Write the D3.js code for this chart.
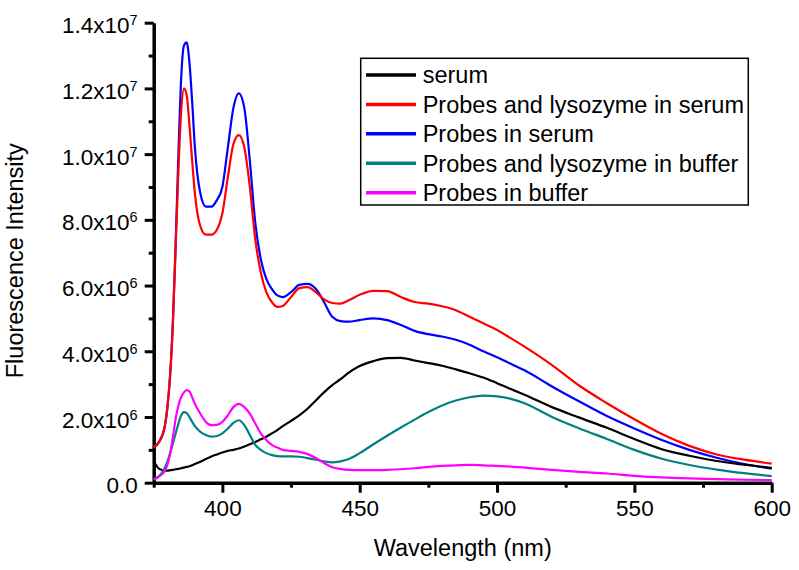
<!DOCTYPE html>
<html>
<head>
<meta charset="utf-8">
<script src="https://cdn.jsdelivr.net/npm/d3@7"></script>
<style>
  body { margin: 0; background: #fff; }
  svg { font-family: Arial, "Liberation Sans", sans-serif; }
</style>
</head>
<body>
<svg id="chart" width="799" height="570"></svg>
<script>
// wavelength grid (nm)
const wavelength = [375, 377, 379, 380, 381, 382, 383, 384, 385, 386, 387, 388, 389, 390, 392, 394, 396, 398, 400, 402,
  404, 406, 408, 410, 412, 414, 416, 418, 420, 422, 425, 428, 431, 434, 437, 440, 443, 446, 450, 455,
  460, 465, 470, 475, 480, 485, 490, 495, 500, 505, 510, 520, 530, 540, 550, 560, 570, 580, 590, 600]

// intensities in units of 1e6
const serum = [0.66, 0.42, 0.37, 0.37, 0.38, 0.39, 0.41, 0.42, 0.44, 0.46, 0.48, 0.50, 0.53, 0.57, 0.64, 0.72, 0.80, 0.86, 0.92, 0.97,
  1.00, 1.04, 1.10, 1.17, 1.24, 1.32, 1.40, 1.50, 1.60, 1.72, 1.88, 2.05, 2.25, 2.50, 2.75, 2.97, 3.15, 3.35, 3.55, 3.70,
  3.79, 3.80, 3.72, 3.64, 3.56, 3.45, 3.33, 3.20, 3.03, 2.85, 2.68, 2.30, 1.98, 1.67, 1.33, 1.02, 0.82, 0.66, 0.55, 0.45]
const lysoSerum = [1.08, 1.25, 1.70, 2.30, 3.30, 4.90, 7.20, 9.50, 11.3, 12.0, 11.8, 10.9, 9.80, 8.80, 7.80, 7.55, 7.55, 7.70, 8.20, 9.30,
  10.3, 10.58, 10.2, 9.00, 7.40, 6.40, 5.80, 5.50, 5.35, 5.38, 5.65, 5.92, 5.95, 5.80, 5.58, 5.47, 5.45, 5.55, 5.72, 5.84,
  5.83, 5.65, 5.50, 5.45, 5.37, 5.25, 5.05, 4.85, 4.65, 4.40, 4.14, 3.58, 2.95, 2.42, 1.93, 1.48, 1.12, 0.86, 0.70, 0.58]
const probesSerum = [1.08, 1.25, 1.70, 2.30, 3.30, 4.90, 7.30, 10.0, 12.3, 13.3, 13.4, 12.8, 11.6, 10.2, 8.80, 8.40, 8.40, 8.60, 9.00, 10.2,
  11.4, 11.85, 11.4, 9.80, 7.90, 6.80, 6.20, 5.90, 5.70, 5.65, 5.80, 6.02, 6.05, 5.90, 5.50, 5.05, 4.92, 4.90, 4.95, 5.00,
  4.95, 4.80, 4.62, 4.52, 4.45, 4.35, 4.20, 4.00, 3.82, 3.62, 3.42, 2.93, 2.47, 2.03, 1.65, 1.30, 1.00, 0.76, 0.57, 0.43]
const lysoBuffer = [0.10, 0.20, 0.45, 0.65, 0.90, 1.20, 1.50, 1.80, 2.05, 2.15, 2.12, 2.00, 1.85, 1.72, 1.55, 1.45, 1.40, 1.42, 1.50, 1.65,
  1.82, 1.90, 1.75, 1.45, 1.15, 1.00, 0.90, 0.84, 0.81, 0.80, 0.80, 0.79, 0.75, 0.70, 0.65, 0.62, 0.65, 0.72, 0.90, 1.17,
  1.43, 1.68, 1.92, 2.15, 2.35, 2.50, 2.60, 2.65, 2.63, 2.55, 2.42, 2.00, 1.65, 1.33, 1.00, 0.73, 0.54, 0.40, 0.29, 0.20]
const probesBuffer = [0.10, 0.20, 0.35, 0.55, 0.90, 1.40, 1.95, 2.35, 2.60, 2.75, 2.82, 2.78, 2.60, 2.40, 2.10, 1.85, 1.75, 1.76, 1.85, 2.05,
  2.30, 2.40, 2.30, 2.10, 1.80, 1.50, 1.30, 1.15, 1.07, 1.00, 0.97, 0.94, 0.87, 0.75, 0.60, 0.47, 0.42, 0.39, 0.38, 0.38,
  0.39, 0.41, 0.44, 0.48, 0.51, 0.53, 0.54, 0.53, 0.51, 0.49, 0.46, 0.39, 0.33, 0.28, 0.21, 0.16, 0.13, 0.11, 0.09, 0.08]

const seriesNames = ['serum', 'Probes and lysozyme in serum', 'Probes in serum', 'Probes and lysozyme in buffer', 'Probes in buffer']
const seriesValues = [serum, lysoSerum, probesSerum, lysoBuffer, probesBuffer]
const seriesColors = ['#000000', '#ff0000', '#0000ff', '#008080', '#ff00ff']
// draw order: blue under red near the peaks, as in the original
const drawOrder = [2, 1, 0, 3, 4]

const xMajor = [400, 450, 500, 550, 600]
const xMinor = [375, 425, 475, 525, 575]
const yMajor = [0, 2e6, 4e6, 6e6, 8e6, 1e7, 1.2e7, 1.4e7]
const yMinor = [1e6, 3e6, 5e6, 7e6, 9e6, 1.1e7, 1.3e7]

const svg = d3.select('#chart')

const x = d3.scaleLinear().domain([375, 600]).range([153.7, 771.7])
const y = d3.scaleLinear().domain([0, 1.4e7]).range([482.7, 22.7])

// minor ticks
svg.append('g')
  .attr('transform', `translate(0,${y(0)})`)
  .call(d3.axisBottom(x).tickValues(xMinor).tickSize(5).tickFormat(''))
  .call(g => g.select('.domain').remove())
  .call(g => g.selectAll('line').attr('stroke-width', 3))
svg.append('g')
  .attr('transform', `translate(${x(375)},0)`)
  .call(d3.axisLeft(y).tickValues(yMinor).tickSize(5).tickFormat(''))
  .call(g => g.select('.domain').remove())
  .call(g => g.selectAll('line').attr('stroke-width', 3))

// x axis
svg.append('g')
  .attr('transform', `translate(0,${y(0)})`)
  .call(d3.axisBottom(x).tickValues(xMajor).tickSize(10).tickPadding(7).tickSizeOuter(0))
  .call(g => g.select('.domain').attr('stroke-width', 3.5))
  .call(g => g.selectAll('line').attr('stroke-width', 3))
  .call(g => g.selectAll('text').attr('font-size', 22.5).attr('font-family', 'Arial, Liberation Sans').attr('fill', '#000'))

// y axis with x10^n labels
const fmtY = v => {
  if (v === 0) return { m: '0.0', e: null }
  const e = Math.floor(Math.log10(v))
  return { m: (v / Math.pow(10, e)).toFixed(1) + 'x10', e: String(e) }
}
svg.append('g')
  .attr('transform', `translate(${x(375)},0)`)
  .call(d3.axisLeft(y).tickValues(yMajor).tickSize(9).tickPadding(7).tickSizeOuter(0))
  .call(g => g.select('.domain').attr('stroke-width', 3.5))
  .call(g => g.selectAll('line').attr('stroke-width', 3))
  .call(g => g.selectAll('text')
    .attr('font-size', 22.5)
    .attr('font-family', 'Arial, Liberation Sans')
    .attr('fill', '#000')
    .attr('dy', '0.45em')
    .each(function (d) {
      const f = fmtY(d)
      const t = d3.select(this).text(f.m)
      if (f.e) {
        t.append('tspan').attr('dy', '-0.55em').attr('font-size', 14.5).text(f.e)
      }
    }))

// curves
const line = d3.line()
  .x((d, i) => x(wavelength[i]))
  .y(d => y(d * 1e6))
  .curve(d3.curveMonotoneX)

svg.append('g')
  .selectAll('path')
  .data(drawOrder)
  .join('path')
  .attr('d', i => line(seriesValues[i]))
  .attr('fill', 'none')
  .attr('stroke', i => seriesColors[i])
  .attr('stroke-width', 2.2)
  .attr('stroke-linejoin', 'round')

// axis titles
svg.append('text')
  .attr('x', (x(375) + x(600)) / 2)
  .attr('y', 556)
  .attr('text-anchor', 'middle')
  .attr('font-size', 23.5)
  .text('Wavelength (nm)')

svg.append('text')
  .attr('transform', `translate(23,${(y(0) + y(1.4e7)) / 2 + 8}) rotate(-90)`)
  .attr('text-anchor', 'middle')
  .attr('font-size', 23.5)
  .text('Fluorescence Intensity')

// legend
const legend = svg.append('g')
legend.append('rect')
  .attr('x', 360.7).attr('y', 58.3)
  .attr('width', 387.6).attr('height', 146.7)
  .attr('fill', '#fff').attr('stroke', '#000').attr('stroke-width', 1.5)

const rowY = d3.scalePoint().domain(d3.range(seriesNames.length)).range([75, 192.7])
const rows = legend.selectAll('g.row')
  .data(seriesNames)
  .join('g')
  .attr('class', 'row')
  .attr('transform', (d, i) => `translate(0,${rowY(i)})`)
rows.append('line')
  .attr('x1', 366).attr('x2', 416)
  .attr('stroke', (d, i) => seriesColors[i])
  .attr('stroke-width', 3.5)
rows.append('text')
  .attr('x', 422.7)
  .attr('dy', '0.36em')
  .attr('font-size', 23.5)
  .text(d => d)
</script>
</body>
</html>
